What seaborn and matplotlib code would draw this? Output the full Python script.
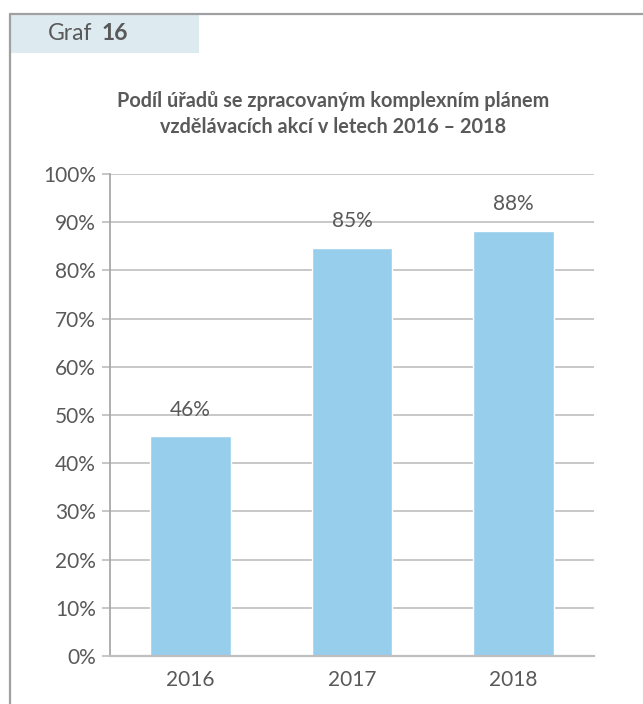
import matplotlib
matplotlib.use("Agg")
import matplotlib.pyplot as plt
import seaborn as sns
from matplotlib.lines import Line2D
from matplotlib.patches import Rectangle
from matplotlib.ticker import PercentFormatter

# Data
years = ["2016", "2017", "2018"]
shares = [0.456, 0.847, 0.882]
title = "Podíl úřadů se zpracovaným komplexním plánem\nvzdělávacích akcí v letech 2016 – 2018"

TEXT = "#595959"
BAR = "#97CEEC"
GRID = "#BFBFBF"

sns.set_theme(style="white")
plt.rcParams["font.family"] = ["Lato", "DejaVu Sans"]

W, H = 643, 704
fig = plt.figure(figsize=(W / 100, H / 100), dpi=100)

# outer frame (left + top lines)
fig.add_artist(Line2D([10 / W, 10 / W], [0, 1 - 14 / H], transform=fig.transFigure,
                      color="#A0A0A0", lw=1.6))
fig.add_artist(Line2D([10 / W, 1], [1 - 14 / H, 1 - 14 / H], transform=fig.transFigure,
                      color="#A0A0A0", lw=1.6))

# header box
fig.add_artist(Rectangle((11 / W, 1 - 53 / H), 188 / W, 38 / H, transform=fig.transFigure,
                         facecolor="#DDEBF0", edgecolor="none"))
fig.text(48 / W, 1 - 34 / H, "Graf", fontsize=16.5, color=TEXT, va="center", ha="left")
fig.text(102 / W, 1 - 34 / H, "16", fontsize=16.5, color=TEXT, va="center", ha="left",
         fontweight="bold")

# title
fig.text(333 / W, 1 - 114 / H, title, fontsize=14.3, color=TEXT, fontweight="bold",
         ha="center", va="center", linespacing=1.4)

ax = fig.add_axes([110 / W, 48 / H, 484 / W, 482 / H])
sns.barplot(x=years, y=shares, color=BAR, width=0.5, saturation=1, ax=ax)

ax.set_ylim(0, 1)
ax.set_yticks([i / 10 for i in range(11)])
ax.yaxis.set_major_formatter(PercentFormatter(1.0, decimals=0))
ax.yaxis.grid(True, color=GRID, lw=1.2)
ax.set_axisbelow(True)

for s in ["top", "right"]:
    ax.spines[s].set_visible(False)
ax.spines["left"].set_color("#A6A6A6")
ax.spines["bottom"].set_color(GRID)
ax.spines["bottom"].set_linewidth(1.6)

ax.tick_params(axis="y", length=6, color=GRID, labelsize=15, labelcolor=TEXT, left=True, pad=4)
ax.tick_params(axis="x", length=0, labelsize=15, labelcolor=TEXT, pad=10)
ax.set_xlabel("")
ax.set_ylabel("")

ax.bar_label(ax.containers[0], labels=[f"{v:.0%}" for v in shares], padding=12,
             fontsize=15, color=TEXT)

fig.savefig("out.png", dpi=100)
